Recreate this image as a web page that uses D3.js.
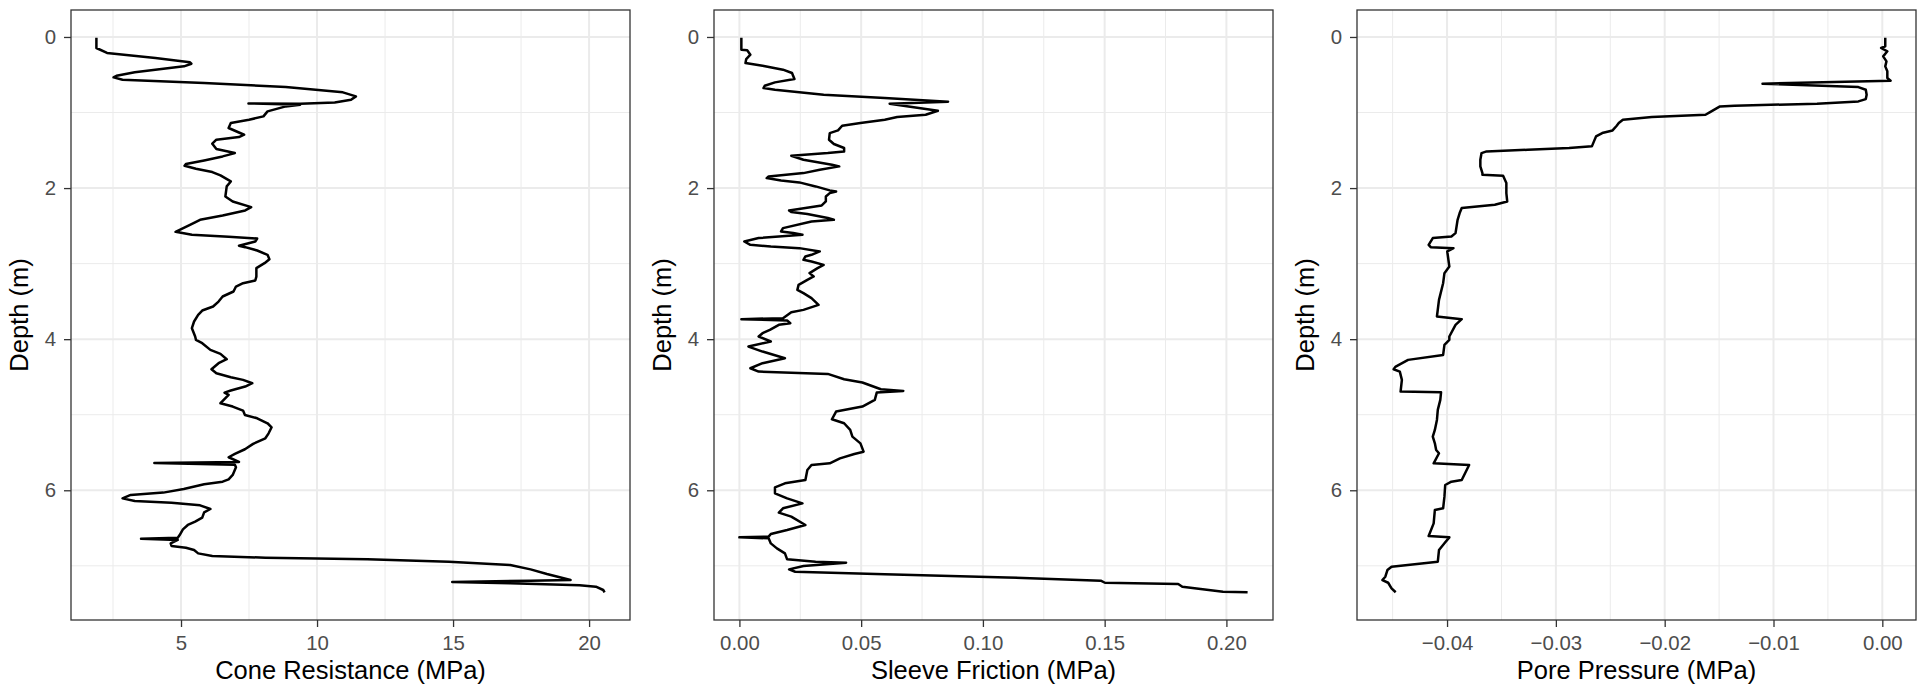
<!DOCTYPE html>
<html><head><meta charset="utf-8">
<script src="https://cdn.jsdelivr.net/npm/d3@7"></script>
<style>body{margin:0;background:#fff}svg{display:block}</style>
</head><body><svg id="chart" width="1929" height="685"></svg>
<script>
// ---------- data ----------
const coneDepth = [0.01,0.146,0.212,0.279,0.336,0.354,0.389,0.468,0.513,0.535,0.566,0.610,0.663,0.733,0.786,0.830,0.866,0.883,0.879,0.897,0.919,0.985,1.051,1.095,1.139,1.205,1.294,1.325,1.360,1.413,1.484,1.537,1.581,1.634,1.682,1.704,1.744,1.788,1.833,1.912,1.978,2.111,2.177,2.252,2.296,2.362,2.420,2.486,2.552,2.579,2.618,2.645,2.667,2.707,2.764,2.782,2.826,2.883,2.941,2.994,3.060,3.171,3.223,3.259,3.303,3.369,3.435,3.502,3.568,3.621,3.678,3.766,3.855,3.965,4.009,4.053,4.142,4.195,4.265,4.318,4.398,4.451,4.504,4.539,4.583,4.627,4.680,4.707,4.738,4.804,4.848,4.892,4.945,5.003,5.047,5.113,5.166,5.246,5.312,5.386,5.457,5.519,5.563,5.625,5.638,5.661,5.696,5.797,5.855,5.886,5.921,5.983,6.031,6.062,6.107,6.142,6.164,6.199,6.248,6.292,6.362,6.415,6.459,6.517,6.592,6.627,6.641,6.658,6.702,6.737,6.760,6.791,6.835,6.870,6.892,6.914,6.945,6.989,7.047,7.108,7.188,7.197,7.215,7.232,7.258,7.276,7.320,7.350];
const coneResistance = [1.89,1.89,2.28,4.06,5.33,5.38,5.11,3.30,2.63,2.52,2.85,5.85,8.85,10.95,11.43,11.25,10.65,9.38,7.48,9.38,8.85,8.18,8.03,7.50,6.83,6.75,7.32,7.13,6.30,6.15,6.30,6.98,6.53,5.85,5.18,5.13,5.55,6.15,6.45,6.83,6.68,6.63,6.90,7.58,7.36,6.53,5.70,5.33,4.95,4.80,5.40,6.75,7.80,7.73,7.13,7.36,7.80,8.18,8.25,8.07,7.77,7.77,7.73,7.28,7.02,6.93,6.53,6.38,6.18,5.78,5.63,5.48,5.40,5.52,5.55,5.78,6.08,6.45,6.68,6.38,6.12,6.30,6.83,7.28,7.62,7.36,6.83,6.60,6.75,6.57,6.45,6.90,7.28,7.35,7.80,8.18,8.33,8.22,8.10,7.65,7.35,6.98,6.75,7.13,4.02,6.98,7.02,6.90,6.75,6.53,5.85,5.10,4.35,3.15,2.85,3.30,4.65,5.70,6.08,5.85,5.78,5.52,5.25,5.07,4.95,4.88,3.53,4.88,4.62,4.65,5.18,5.48,5.63,6.15,8.10,11.85,14.85,17.10,17.85,18.45,19.32,17.85,14.97,17.10,19.65,20.25,20.52,20.57];

const sleeveDepth = [0.01,0.168,0.177,0.234,0.292,0.345,0.380,0.433,0.477,0.557,0.601,0.645,0.676,0.698,0.764,0.808,0.857,0.883,0.976,1.029,1.060,1.095,1.139,1.175,1.237,1.272,1.360,1.417,1.470,1.515,1.537,1.572,1.625,1.691,1.713,1.758,1.802,1.846,1.868,1.899,1.925,1.978,2.031,2.045,2.067,2.111,2.177,2.230,2.296,2.318,2.344,2.397,2.420,2.442,2.530,2.574,2.596,2.618,2.662,2.707,2.751,2.773,2.795,2.839,2.883,2.905,2.950,2.972,3.016,3.060,3.126,3.170,3.214,3.281,3.347,3.391,3.457,3.546,3.612,3.643,3.722,3.735,3.753,3.788,3.810,3.877,3.921,3.965,4.031,4.098,4.164,4.252,4.318,4.385,4.429,4.460,4.530,4.574,4.663,4.685,4.707,4.804,4.892,4.958,5.060,5.113,5.201,5.290,5.379,5.489,5.519,5.577,5.643,5.665,5.731,5.864,5.908,5.961,6.040,6.107,6.173,6.239,6.296,6.349,6.460,6.526,6.579,6.614,6.623,6.636,6.703,6.769,6.835,6.914,6.945,6.958,7.003,7.047,7.078,7.113,7.153,7.197,7.224,7.241,7.277,7.343,7.350];
const sleeveFriction = [0.0008,0.0008,0.0032,0.0045,0.0028,0.0025,0.0095,0.0179,0.0216,0.0226,0.0146,0.0104,0.0099,0.0146,0.0346,0.0597,0.0857,0.0617,0.0815,0.0765,0.0648,0.0597,0.0497,0.0422,0.0405,0.0371,0.0368,0.0388,0.0430,0.0430,0.0363,0.0213,0.0263,0.0380,0.0410,0.0330,0.0263,0.0120,0.0112,0.0171,0.0246,0.0313,0.0371,0.0397,0.0371,0.0355,0.0355,0.0338,0.0204,0.0213,0.0279,0.0363,0.0388,0.0296,0.0179,0.0171,0.0221,0.0259,0.0079,0.0020,0.0045,0.0129,0.0246,0.0330,0.0296,0.0271,0.0263,0.0296,0.0346,0.0321,0.0288,0.0305,0.0279,0.0243,0.0238,0.0263,0.0296,0.0325,0.0263,0.0213,0.0179,0.0008,0.0196,0.0209,0.0162,0.0125,0.0095,0.0079,0.0129,0.0037,0.0095,0.0187,0.0095,0.0045,0.0079,0.0363,0.0430,0.0505,0.0581,0.0673,0.0564,0.0556,0.0505,0.0397,0.0380,0.0430,0.0455,0.0464,0.0497,0.0510,0.0472,0.0413,0.0371,0.0296,0.0279,0.0271,0.0187,0.0146,0.0146,0.0196,0.0259,0.0179,0.0162,0.0213,0.0271,0.0196,0.0129,0.0120,0.0000,0.0120,0.0129,0.0154,0.0187,0.0196,0.0313,0.0438,0.0263,0.0204,0.0229,0.0597,0.1099,0.1484,0.1501,0.1802,0.1819,0.1986,0.2087];

const poreDepth = [0.01,0.124,0.146,0.190,0.257,0.323,0.389,0.455,0.544,0.579,0.619,0.663,0.698,0.764,0.822,0.853,0.883,0.910,0.919,0.998,1.029,1.060,1.095,1.139,1.175,1.237,1.272,1.316,1.382,1.448,1.470,1.493,1.515,1.537,1.625,1.713,1.802,1.824,1.837,1.934,2.067,2.177,2.221,2.265,2.331,2.420,2.596,2.640,2.662,2.751,2.782,2.795,2.839,3.038,3.126,3.259,3.480,3.700,3.735,3.810,3.965,4.009,4.075,4.208,4.274,4.362,4.398,4.429,4.539,4.694,4.702,4.804,4.936,5.069,5.201,5.290,5.379,5.467,5.510,5.643,5.666,5.864,5.886,5.930,6.084,6.239,6.261,6.438,6.605,6.623,6.702,6.791,6.945,7.011,7.056,7.144,7.188,7.224,7.298,7.350];
const porePressure = [0.00027,0.00027,-0.00011,0.00046,0.00008,0.00038,0.00027,0.00046,0.00046,0.00076,-0.01101,-0.00220,-0.00152,-0.00144,-0.00152,-0.00220,-0.00600,-0.01359,-0.01492,-0.01587,-0.01625,-0.02118,-0.02384,-0.02422,-0.02441,-0.02479,-0.02574,-0.02631,-0.02650,-0.02669,-0.02878,-0.03257,-0.03637,-0.03683,-0.03694,-0.03694,-0.03675,-0.03675,-0.03485,-0.03455,-0.03455,-0.03447,-0.03561,-0.03865,-0.03884,-0.03903,-0.03922,-0.03960,-0.04131,-0.04169,-0.04150,-0.03941,-0.03998,-0.03979,-0.04024,-0.04036,-0.04074,-0.04093,-0.03865,-0.03922,-0.03979,-0.03979,-0.04024,-0.04036,-0.04358,-0.04472,-0.04491,-0.04434,-0.04415,-0.04427,-0.04055,-0.04062,-0.04085,-0.04093,-0.04112,-0.04131,-0.04112,-0.04100,-0.04074,-0.04123,-0.03797,-0.03865,-0.03960,-0.04017,-0.04024,-0.04036,-0.04112,-0.04123,-0.04169,-0.03979,-0.04024,-0.04074,-0.04085,-0.04510,-0.04548,-0.04567,-0.04594,-0.04541,-0.04510,-0.04472];

const xTitles = ["Cone Resistance (MPa)", "Sleeve Friction (MPa)", "Pore Pressure (MPa)"];
const yTitle = "Depth (m)";
const xFormats = ["d", ".2f", ".2f"];

// ---------- drawing ----------
const W = 1929, H = 685;
const panelW = W / 3;
const m = {left: 71, right: 13, top: 10, bottom: 65};
const font = "'Liberation Sans', Arial, Helvetica, sans-serif";
const svg = d3.select("#chart");

const series = [
  {depth: coneDepth, value: coneResistance},
  {depth: sleeveDepth, value: sleeveFriction},
  {depth: poreDepth, value: porePressure}
];

function expand(ext) { const r = (ext[1] - ext[0]) * 0.05; return [ext[0] - r, ext[1] + r]; }
function minorTicks(major, dom) {
  const step = major[1] - major[0];
  const out = [];
  for (let i = -1; i < major.length; i++) {
    const v = (i < 0 ? major[0] - step : major[i]) + step / 2;
    if (v > dom[0] && v < dom[1]) out.push(v);
  }
  return out;
}

series.forEach((s, i) => {
  const g = svg.append("g").attr("transform", `translate(${i * panelW},0)`);
  const x0 = m.left, x1 = panelW - m.right, y0 = m.top, y1 = H - m.bottom;
  const xDom = expand(d3.extent(s.value));
  const yDom = expand(d3.extent(s.depth));
  const x = d3.scaleLinear().domain(xDom).range([x0, x1]);
  const y = d3.scaleLinear().domain(yDom).range([y0, y1]);

  const xMaj = x.ticks(5), yMaj = y.ticks(5);
  const xMin = minorTicks(xMaj, xDom), yMin = minorTicks(yMaj, yDom);

  // grid
  const grid = g.append("g");
  grid.selectAll(".xm").data(xMin).join("line")
    .attr("x1", d => x(d)).attr("x2", d => x(d)).attr("y1", y0).attr("y2", y1)
    .attr("stroke", "#EBEBEB").attr("stroke-width", 1);
  grid.selectAll(".ym").data(yMin).join("line")
    .attr("y1", d => y(d)).attr("y2", d => y(d)).attr("x1", x0).attr("x2", x1)
    .attr("stroke", "#EBEBEB").attr("stroke-width", 1);
  grid.selectAll(".xM").data(xMaj).join("line")
    .attr("x1", d => x(d)).attr("x2", d => x(d)).attr("y1", y0).attr("y2", y1)
    .attr("stroke", "#EBEBEB").attr("stroke-width", 2);
  grid.selectAll(".yM").data(yMaj).join("line")
    .attr("y1", d => y(d)).attr("y2", d => y(d)).attr("x1", x0).attr("x2", x1)
    .attr("stroke", "#EBEBEB").attr("stroke-width", 2);

  // data line
  const pts = s.depth.map((d, k) => [s.value[k], d]);
  g.append("path").datum(pts)
    .attr("d", d3.line().x(p => x(p[0])).y(p => y(p[1])))
    .attr("fill", "none").attr("stroke", "#000").attr("stroke-width", 2.5)
    .attr("stroke-linejoin", "round");

  // border
  g.append("rect").attr("x", x0).attr("y", y0).attr("width", x1 - x0).attr("height", y1 - y0)
    .attr("fill", "none").attr("stroke", "#333333").attr("stroke-width", 1.3);

  // axes
  const fmt = d3.format(xFormats[i]);
  const xAxis = g.append("g").attr("transform", `translate(0,${y1})`)
    .call(d3.axisBottom(x).tickValues(xMaj).tickFormat(fmt).tickSize(7).tickPadding(6));
  const yAxis = g.append("g").attr("transform", `translate(${x0},0)`)
    .call(d3.axisLeft(y).tickValues(yMaj).tickFormat(d3.format("d")).tickSize(7).tickPadding(8));
  [xAxis, yAxis].forEach(a => {
    a.select(".domain").remove();
    a.selectAll(".tick line").attr("stroke", "#333333").attr("stroke-width", 1.3);
    a.selectAll(".tick text").attr("fill", "#4D4D4D").attr("font-size", 20.4).attr("font-family", font);
  });
  xAxis.selectAll(".tick text").attr("dy", null).attr("y", 30);

  // titles
  g.append("text").attr("x", (x0 + x1) / 2).attr("y", 679)
    .attr("text-anchor", "middle").attr("font-family", font).attr("font-size", 25.5)
    .attr("fill", "#000").text(xTitles[i]);
  g.append("text").attr("transform", `translate(${x0 - 43},${(y0 + y1) / 2}) rotate(-90)`)
    .attr("text-anchor", "middle").attr("font-family", font).attr("font-size", 25.5)
    .attr("fill", "#000").text(yTitle);
});
</script>
</body></html>
